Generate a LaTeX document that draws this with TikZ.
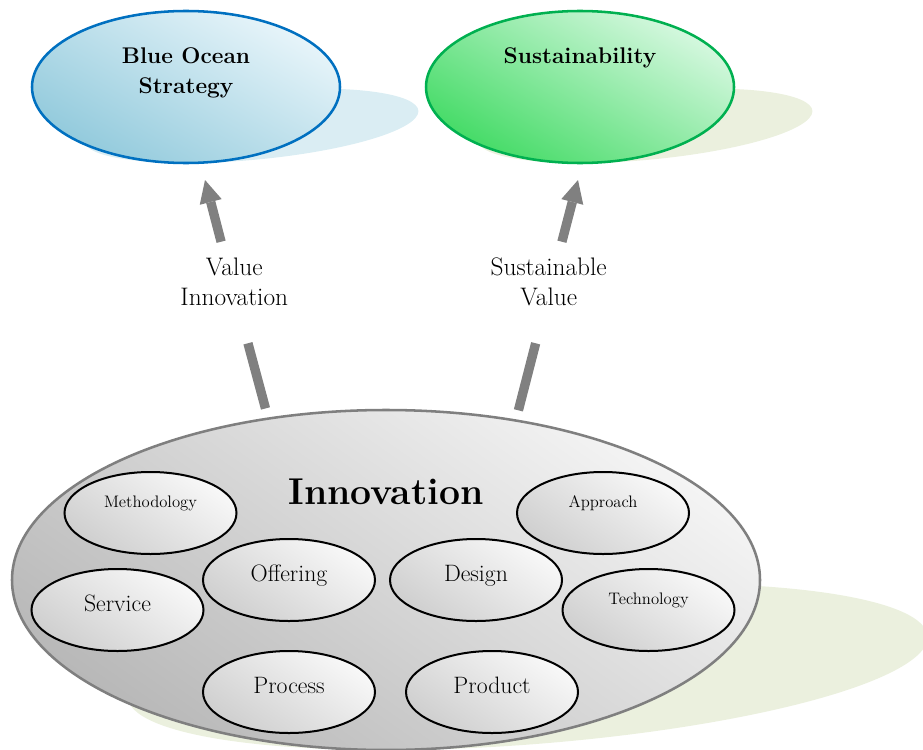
\documentclass[tikz,border=0pt]{standalone}
\usepackage[dvipsnames]{xcolor}
\usetikzlibrary{shapes.geometric,arrows.meta}

\definecolor{oceanline}{HTML}{0070C0}
\definecolor{oceanlight}{HTML}{E8F5FA}
\definecolor{oceandark}{HTML}{92CADC}
\definecolor{oceanshadow}{HTML}{DAEDF3}
\definecolor{greenline}{HTML}{00B050}
\definecolor{greenlight}{HTML}{D6F8E0}
\definecolor{greendark}{HTML}{44DB66}
\definecolor{oliveshadow}{HTML}{EBF0DE}
\definecolor{innoline}{HTML}{7F7F7F}
\definecolor{innolight}{HTML}{F4F4F4}
\definecolor{innodark}{HTML}{B8B8B8}
\definecolor{bubblelight}{HTML}{F8F8F8}
\definecolor{bubbledark}{HTML}{CFCFCF}
\definecolor{arrowgray}{HTML}{808080}

\begin{document}
\begin{tikzpicture}[x=0.75pt,y=-0.75pt,>={Triangle[width=17pt,length=17pt,line width=0pt]},
    every node/.style={inner sep=0pt},
    goal/.style={ellipse,line width=1.9pt,minimum width=231pt,minimum height=114pt,align=center,font=\fontsize{17}{22.5}\selectfont\bfseries,text height=12pt,text depth=47.6pt},
    ocean/.style={goal,draw=oceanline,top color=oceanlight,bottom color=oceandark,shading angle=-30},
    green goal/.style={goal,draw=greenline,top color=greenlight,bottom color=greendark,shading angle=-30},
    hub/.style={ellipse,draw=innoline,line width=1.9pt,minimum width=561pt,minimum height=255pt,top color=innolight,bottom color=innodark,shading angle=-35,font=\fontsize{28}{32}\selectfont\bfseries,text height=20pt,text depth=132.8pt},
    bubble/.style={ellipse,draw,line width=1.5pt,minimum width=129pt,minimum height=61.5pt,top color=bubblelight,bottom color=bubbledark,shading angle=-35,font=\fontsize{17.8}{20}\selectfont,text height=12pt,text depth=10.3pt},
    small bubble/.style={bubble,font=\fontsize{12.5}{14}\selectfont,text height=9pt,text depth=17pt},
    tag/.style={minimum height=75.75pt,align=center,font=\fontsize{19}{22.5}\selectfont,text height=24pt,text depth=3.8pt},
    flow/.style={color=arrowgray,line width=7pt}]

  \useasboundingbox (0,0) rectangle (923,749);
  \clip (0,0) rectangle (923,749);

  % flat shadows thrown to the upper right
  \begin{scope}[shift={(0,163)},xslant=1.75,yscale=0.49]
    \fill[oceanshadow] (186,-76) ellipse [x radius=154,y radius=76];
    \fill[oliveshadow] (580,-76) ellipse [x radius=154,y radius=76];
  \end{scope}
  \begin{scope}[shift={(0,750)},xslant=1.7,yscale=0.49]
    \fill[oliveshadow] (386,-170) ellipse [x radius=374,y radius=170];
  \end{scope}

  \node[ocean,text depth=2.6pt] (bos) at (186,87) {Blue Ocean\\Strategy};
  \node[green goal] (sus) [node distance=295.5pt,right of=bos] {Sustainability};

  \node[hub] (inno) at (386,580) {Innovation};
  \node[small bubble] (meth) at (150.5,513) {Methodology};
  \node[small bubble] (appr) at (603,513) {Approach};
  \node[bubble] (offer) at (289,580) {Offering};
  \node[bubble] (design) at (476,580) {Design};
  \node[bubble] (serv) at (117.5,610) {Service};
  \node[small bubble] (tech) at (648.5,610) {Technology};
  \node[bubble] (proc) at (289,692) {Process};
  \node[bubble] (prod) at (492,692) {Product};

  \node[tag] (vi) at (234.3,292.5) {Value\\Innovation};
  \node[tag] (sv) [node distance=235.8pt,right of=vi] {Sustainable\\Value};
  \coordinate (viTip) at (205,180);
  \coordinate (svTip) at (578,180);

  \path[flow]
    (inno.126) edge[shorten <=7pt] (vi)
    (vi) edge[->] (viTip)
    (inno.51) edge[shorten <=7pt] (sv)
    (sv) edge[->] (svTip);
\end{tikzpicture}
\end{document}
